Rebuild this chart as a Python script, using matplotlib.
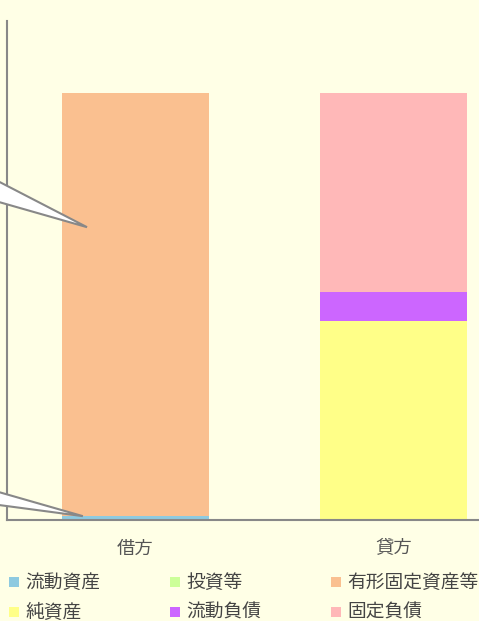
import matplotlib
matplotlib.use("Agg")
import matplotlib.pyplot as plt
from matplotlib.patches import Polygon, Rectangle
import numpy as np

plt.rcParams['font.family'] = ['Noto Sans CJK JP', 'DejaVu Sans']

categories = ["借方", "貸方"]
series_names = ["流動資産", "投資等", "有形固定資産等", "純資産", "流動負債", "固定負債"]
# values (%) per series for [借方, 貸方]
ryudo_shisan = [1.0, 0.0]
toushi = [0.0, 0.0]
yukei_kotei = [99.0, 0.0]
jun_shisan = [0.0, 46.6]
ryudo_fusai = [0.0, 6.8]
kotei_fusai = [0.0, 46.6]
series_values = [ryudo_shisan, toushi, yukei_kotei, jun_shisan, ryudo_fusai, kotei_fusai]
colors = ["#8ECAE0", "#CCFF99", "#FAC090", "#FFFF88", "#CC66FF", "#FFB8B8"]

bg = "#FFFFE6"
W, H = 479, 621
fig = plt.figure(figsize=(W / 100, H / 100), dpi=100, facecolor=bg)
ax = fig.add_axes([6.5 / W, (H - 520) / H, 516 / W, (520 - 21) / H])
ax.set_facecolor(bg)

x = np.arange(len(categories))
bottom = np.zeros(len(categories))
for name, vals, c in zip(series_names, series_values, colors):
    vals = np.array(vals)
    ax.bar(x, vals, width=0.57, bottom=bottom, color=c, label=name, linewidth=0)
    bottom += vals

ax.set_xlim(-0.5, 1.5)
ax.set_ylim(0, 116.9)
ax.set_yticks([])
ax.set_xticks(x)
ax.set_xticklabels(categories, fontsize=13.2, color="#555555")
ax.tick_params(axis="x", length=0, pad=14)
for s in ["top", "right"]:
    ax.spines[s].set_visible(False)
for s in ["left", "bottom"]:
    ax.spines[s].set_color("#888888")
    ax.spines[s].set_linewidth(1.5)

# callout pointers (data labels lying outside the figure on the left)
fig.canvas.draw()
inv = ax.transData.inverted()
def callout(tip, up_off, low_off):
    tx, ty = ax.transData.transform(tip)
    pts = [(tx, ty), (tx + up_off[0], ty + up_off[1]), (tx + low_off[0], ty + low_off[1])]
    dpts = inv.transform(pts)
    ax.add_patch(Polygon(dpts, closed=True, facecolor="white", edgecolor="#888888",
                         linewidth=1.5, clip_on=False, zorder=5, joinstyle="miter"))

callouts = [((-0.188, 68.6), (-147, 76), (-147, 42)),
            ((-0.204, 0.9), (-143, 41), (-143, 19))]
for tip, u, l in callouts:
    callout(tip, u, l)

# legend (row-major, 3 columns)
for i, (name, c) in enumerate(zip(series_names, colors)):
    col, row = i % 3, i // 3
    xp = 9 + 161 * col
    yc = 582 + 30 * row
    fig.patches.append(Rectangle((xp / W, (H - yc - 5) / H), 10 / W, 10 / H,
                                 transform=fig.transFigure, facecolor=c, edgecolor="none"))
    fig.text((xp + 16) / W, (H - yc) / H, name, fontsize=13.5, color="#444444",
             va="center", ha="left")

fig.savefig("out.png", dpi=100, facecolor=bg)
